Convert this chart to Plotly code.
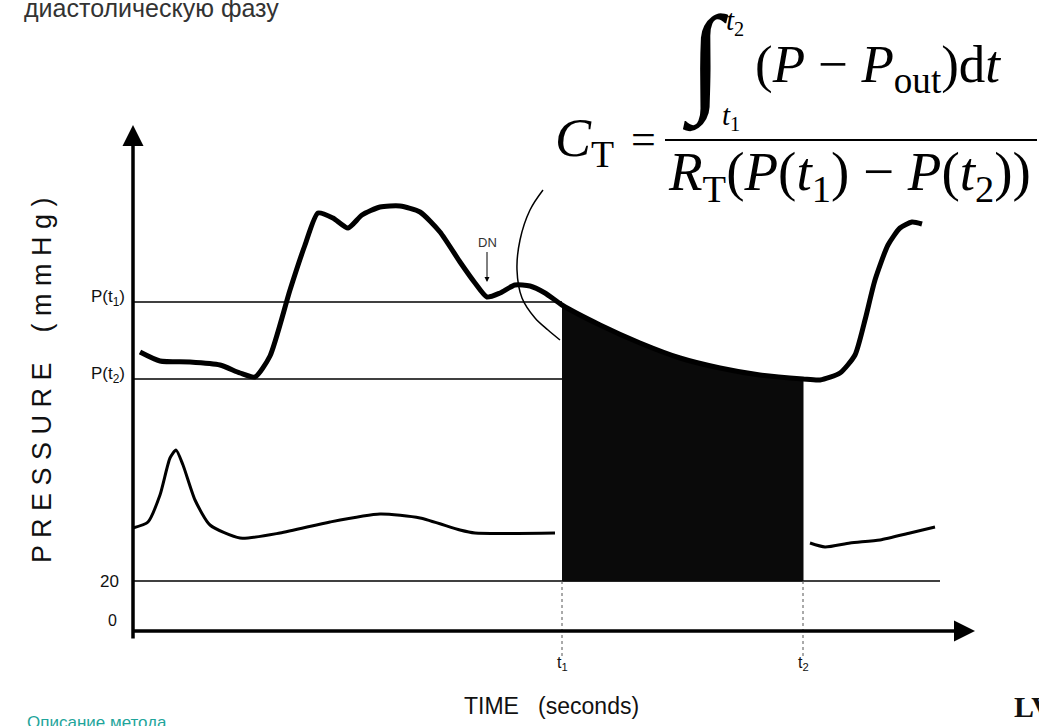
import plotly.graph_objects as go

# ---- data (time in s, pressure in mmHg) ----
aorta_t = [0.07, 0.27, 0.57, 0.87, 1.07, 1.22, 1.37, 1.57, 1.72, 1.85, 2.00, 2.15, 2.29, 2.47, 2.67,
           2.87, 3.07, 3.27, 3.42, 3.54, 3.67, 3.82, 3.97, 4.12, 4.29]
aorta_p = [111.6, 108.0, 107.6, 106.4, 103.2, 101.6, 110.0, 136.4, 154.4, 167.2, 165.2, 161.2, 166.4, 169.6, 170.0,
           167.6, 159.6, 147.6, 139.2, 133.6, 135.2, 138.4, 138.0, 135.2, 130.4]
decay_t = [4.29, 4.67, 5.07, 5.47, 5.87, 6.27, 6.70]
decay_p = [130.4, 122.4, 115.2, 109.2, 105.2, 102.4, 100.8]
rise_t = [6.70, 6.87, 7.07, 7.22, 7.32, 7.42, 7.55, 7.67, 7.79, 7.89]
rise_p = [100.8, 100.4, 103.2, 110.4, 124.4, 140.4, 154.4, 161.2, 163.6, 162.8]

lv1_t = [0.00, 0.15, 0.27, 0.37, 0.43, 0.50, 0.62, 0.77, 1.07, 1.47, 1.97, 2.47, 2.87, 3.27, 3.42, 4.22]
lv1_p = [41.2, 43.6, 54.4, 69.2, 72.4, 66.4, 52.4, 42.4, 37.2, 39.2, 43.6, 46.8, 45.2, 40.4, 39.2, 39.2]
lv2_t = [6.77, 6.92, 7.17, 7.47, 7.77, 8.02]
lv2_p = [35.2, 33.6, 35.2, 36.4, 39.2, 41.6]

arc_t = [4.10, 3.97, 3.87, 3.84, 3.89, 4.02, 4.15, 4.27]
arc_p = [176.4, 168.4, 156.4, 144.4, 133.2, 125.2, 120.4, 116.4]

t1, t2 = 4.29, 6.70
P_t1, P_t2, P_out = 131.6, 100.8, 20.0
dn_t, dn_p = 3.54, 139.6
x_end, y_end = 8.42, 202.4
ref_end = 8.07

W, H = 1039, 726
X_RANGE = [-1.33, 9.06]
Y_RANGE = [-38.0, 252.4]


def X(px):
    return px / W


def Y(py):
    return 1 - py / H


fig = go.Figure()
thin = dict(color="black", width=1.5)

# reference lines
fig.add_trace(go.Scatter(x=[0, t1], y=[P_t1, P_t1], mode="lines", line=thin))
fig.add_trace(go.Scatter(x=[0, t2], y=[P_t2, P_t2], mode="lines", line=thin))
fig.add_trace(go.Scatter(x=[0, ref_end], y=[P_out, P_out], mode="lines", line=thin))

# shaded integral area
fig.add_trace(go.Scatter(x=decay_t + [t2, t1], y=decay_p + [P_out, P_out], mode="lines",
                         fill="toself", fillcolor="#0a0a0a", line=dict(color="#0a0a0a", width=1)))

# dashed verticals at t1, t2
for tv in (t1, t2):
    fig.add_trace(go.Scatter(x=[tv, tv], y=[P_out, -10], mode="lines",
                             line=dict(color="#555", width=1, dash="dot")))

# aortic pressure curve
fig.add_trace(go.Scatter(x=aorta_t + decay_t[1:] + rise_t[1:], y=aorta_p + decay_p[1:] + rise_p[1:],
                         mode="lines", line=dict(color="black", width=5, shape="spline", smoothing=0.6)))
# LV curve
fig.add_trace(go.Scatter(x=lv1_t, y=lv1_p, mode="lines",
                         line=dict(color="black", width=3, shape="spline", smoothing=0.6)))
fig.add_trace(go.Scatter(x=lv2_t, y=lv2_p, mode="lines",
                         line=dict(color="black", width=3, shape="spline", smoothing=0.6)))
# pointer arc
fig.add_trace(go.Scatter(x=arc_t, y=arc_p, mode="lines",
                         line=dict(color="black", width=1.5, shape="spline")))

ann = []


def txt(x, y, text, size, color="#111", family="Liberation Sans, Arial", xanchor="center",
        yanchor="middle", ref="paper", **kw):
    ann.append(dict(x=x, y=y, xref="x" if ref == "data" else "paper", yref="y" if ref == "data" else "paper",
                    text=text, showarrow=False, xanchor=xanchor, yanchor=yanchor,
                    font=dict(size=size, color=color, family=family), **kw))


# axes arrows
ann.append(dict(x=0, y=y_end, ax=0, ay=-3.6, xref="x", yref="y", axref="x", ayref="y",
                showarrow=True, arrowhead=2, arrowsize=1.2, arrowwidth=3.5, arrowcolor="black", text=""))
ann.append(dict(x=x_end, y=0, ax=-0.02, ay=0, xref="x", yref="y", axref="x", ayref="y",
                showarrow=True, arrowhead=2, arrowsize=1.2, arrowwidth=3.5, arrowcolor="black", text=""))
# DN arrow
ann.append(dict(x=dn_t, y=dn_p, ax=0, ay=-30, xref="x", yref="y", showarrow=True, arrowhead=2,
                arrowsize=1, arrowwidth=1, arrowcolor="black", text="DN", yanchor="bottom",
                font=dict(size=13, color="#333", family="Liberation Sans")))

txt(-0.06, P_t1 + 1.5, "P(t<sub>1</sub>)", 17, xanchor="right", ref="data")
txt(-0.06, P_t2 + 1.5, "P(t<sub>2</sub>)", 17, xanchor="right", ref="data")
txt(-0.12, P_out, "20", 17, xanchor="right", ref="data")
txt(-0.14, 4.4, "0", 16, xanchor="right", ref="data")
txt(t1, -13, "t<sub>1</sub>", 16, ref="data")
txt(t2, -13, "t<sub>2</sub>", 16, ref="data")

# axis titles
txt(X(42), Y(380), "P R E S S U R E&nbsp;&nbsp;&nbsp;&nbsp;( m m H g )", 27, textangle=-90)
txt(X(551), Y(706), "TIME&nbsp;&nbsp;&nbsp;(seconds)", 23)

# page texts
txt(X(22), Y(8), "диастолическую фазу", 25, color="#333", xanchor="left")
txt(X(25), Y(722), "Описание метода", 17, color="#1fa59b", xanchor="left")
txt(X(1012), Y(706), "<b>LV</b>", 30, family="Liberation Serif, Times New Roman", xanchor="left")

# formula
serif = "Liberation Serif, Times New Roman, serif"
txt(X(584), Y(142), "<i>C</i><sub>T</sub>", 54, color="black", family=serif)
txt(X(643), Y(139), "=", 44, color="black", family=serif)
txt(X(705), Y(62), "∫", 120, color="black", family=serif)
txt(X(735), Y(22), "<i>t</i><sub>2</sub>", 29, color="black", family=serif)
txt(X(731), Y(117), "<i>t</i><sub>1</sub>", 29, color="black", family=serif)
txt(X(878), Y(68), "(<i>P</i> − <i>P</i><sub>out</sub>)d<i>t</i>", 53, color="black", family=serif)
txt(X(849), Y(175), "<i>R</i><sub>T</sub>(<i>P</i>(<i>t</i><sub>1</sub>) − <i>P</i>(<i>t</i><sub>2</sub>))",
    55, color="black", family=serif)

shapes = [dict(type="line", xref="paper", yref="paper", x0=X(665), x1=X(1037), y0=Y(140), y1=Y(140),
               line=dict(color="black", width=2))]

fig.update_layout(
    width=W, height=H, margin=dict(l=0, r=0, t=0, b=0),
    paper_bgcolor="white", plot_bgcolor="white", showlegend=False,
    xaxis=dict(range=X_RANGE, visible=False, fixedrange=True),
    yaxis=dict(range=Y_RANGE, visible=False, fixedrange=True),
    annotations=ann, shapes=shapes,
)
fig.write_html("out.html")
